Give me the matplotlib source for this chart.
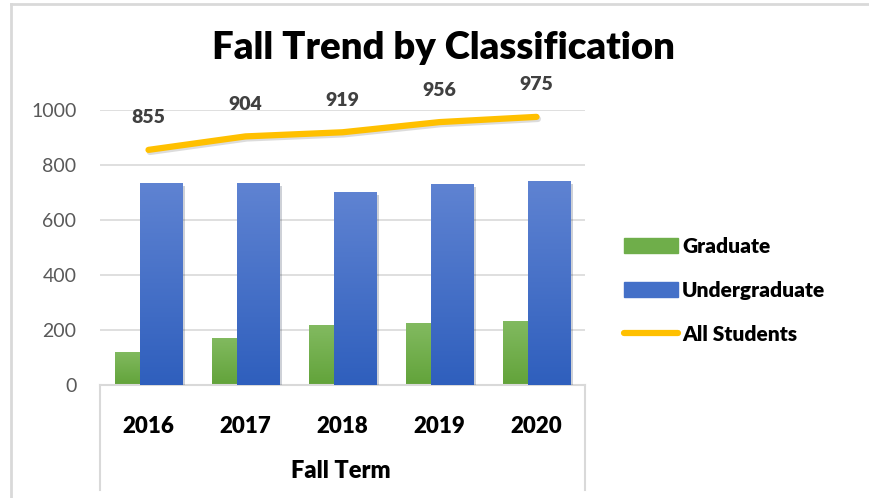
import numpy as np
import matplotlib
matplotlib.use("Agg")
import matplotlib.pyplot as plt
from matplotlib.patches import Patch
from matplotlib.lines import Line2D
import matplotlib.patheffects as pe

years = ["2016", "2017", "2018", "2019", "2020"]
graduate = [120, 171, 218, 225, 233]
undergraduate = [735, 733, 701, 731, 742]
all_students = [855, 904, 919, 956, 975]

plt.rcParams['font.family'] = ['Lato', 'DejaVu Sans']
BOLD = 'heavy'

W, H = 869, 498
fig = plt.figure(figsize=(W / 100, H / 100), dpi=100)
ax = fig.add_axes([100 / W, 1 - 385 / H, 485 / W, 275 / H])

x = np.arange(len(years))
bw = 0.433
off = 0.131


def gradient_bar(xc, h, top_col, bot_col, z):
    bar = ax.bar(xc, h, width=bw, color=bot_col, zorder=z, linewidth=0)[0]
    bar.set_path_effects([pe.SimplePatchShadow(offset=(2, -2), alpha=0.2), pe.Normal()])
    grad = np.linspace(0, 1, 100).reshape(-1, 1)
    c0 = np.array(matplotlib.colors.to_rgb(top_col))
    c1 = np.array(matplotlib.colors.to_rgb(bot_col))
    img = c0 + (c1 - c0) * grad[:, :, None]
    im = ax.imshow(img, extent=[xc - bw / 2, xc + bw / 2, 0, h], aspect='auto',
                   zorder=z + 0.1, origin='upper')
    im.set_clip_path(bar)


for i in range(len(years)):
    gradient_bar(x[i] - off, graduate[i], '#82ba60', '#62a33a', 2)
    gradient_bar(x[i] + off, undergraduate[i], '#5f83d2', '#2f5fbd', 3)

ax.plot(x, all_students, color='#ffc000', lw=4.5, solid_capstyle='round', zorder=5,
        path_effects=[pe.SimpleLineShadow(offset=(1, -1.5), shadow_color='#bbbbbb', alpha=0.5),
                      pe.Normal()])
for xi, v in zip(x, all_students):
    ax.annotate(str(v), (xi, v), xytext=(0, 23), textcoords='offset points',
                ha='center', va='center', fontsize=14, fontweight=BOLD,
                color='#404040', annotation_clip=False)

ax.set_xlim(-0.5, len(years) - 0.5)
ax.set_ylim(0, 1000)
ax.set_yticks(range(0, 1001, 200))
ax.set_xticks(x)
ax.set_xticklabels(years, fontsize=16, fontweight=BOLD, color='black')
ax.tick_params(axis='x', length=0, pad=22)
ax.tick_params(axis='y', length=0, pad=17, labelsize=14, labelcolor='#595959')
ax.grid(axis='y', color='#d9d9d9', lw=1.2, zorder=0)
ax.set_axisbelow(True)
for s in ['top', 'right', 'left']:
    ax.spines[s].set_visible(False)
ax.spines['bottom'].set_color('#d9d9d9')
ax.spines['bottom'].set_linewidth(1.5)

# category axis box
for xl in [100, 585]:
    fig.add_artist(Line2D([xl / W, xl / W], [1 - 385 / H, 1 - 490 / H], color='#d9d9d9', lw=1.5))
fig.text(341 / W, 1 - 471 / H, "Fall Term", ha='center', va='center',
         fontsize=17, fontweight=BOLD, color='black')

fig.text(443 / W, 1 - 48 / H, "Fall Trend by Classification", ha='center', va='center',
         fontsize=27.5, fontweight=BOLD, color='black')

# chart frame
fig.add_artist(Line2D([11 / W, 11 / W], [0, 1 - 4 / H], color='#d9d9d9', lw=2))
fig.add_artist(Line2D([11 / W, 1], [1 - 4 / H, 1 - 4 / H], color='#d9d9d9', lw=2))

handles = [Patch(color='#6fae4a'), Patch(color='#4470c8'),
           Line2D([0], [0], color='#ffc000', lw=4.5, solid_capstyle='round')]
fig.legend(handles, ["Graduate", "Undergraduate", "All Students"], loc='center left',
           bbox_to_anchor=(605 / W, 1 - 290 / H), frameon=False,
           prop={'weight': BOLD, 'size': 15}, handlelength=2.6, handleheight=0.7,
           handletextpad=0.2, labelspacing=1.2)

fig.savefig("out.png", dpi=100)
